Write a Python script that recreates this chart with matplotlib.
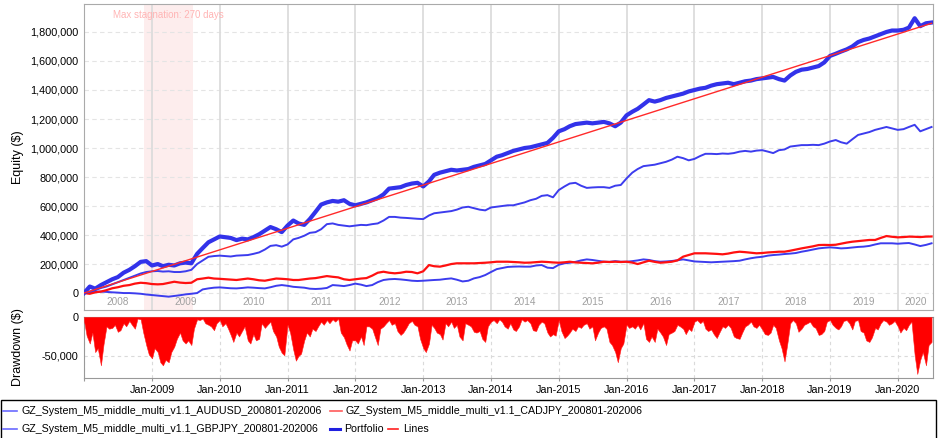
### Equity curve + drawdown chart (portfolio of three GZ systems)

import numpy as np
import pandas as pd
import matplotlib
matplotlib.use("Agg")
import matplotlib.pyplot as plt
import matplotlib.dates as mdates
from matplotlib.lines import Line2D
from matplotlib.patches import Rectangle
from matplotlib.ticker import FuncFormatter, MultipleLocator

plt.rcParams["font.family"] = ["Liberation Sans", "DejaVu Sans"]

# ---- data (values in thousands of $), monthly from Jan-2008 ----
months = pd.date_range("2008-01-01", periods=151, freq="MS")

portfolio = [
    0, 45, 30, 55, 75, 95, 110, 140, 160, 185, 215, 220,
    190, 200, 185, 195, 190, 205, 210, 205, 270, 310, 350, 370,
    390, 385, 380, 365, 375, 370, 385, 405, 430, 455, 440, 420,
    465, 500, 480, 470, 510, 560, 610, 625, 635, 630, 640, 615,
    605, 615, 625, 640, 655, 680, 720, 725, 730, 745, 755, 760,
    735, 770, 815, 830, 840, 850, 845, 850, 855, 870, 880, 890,
    915, 940, 950, 965, 980, 990, 1000, 1005, 1015, 1025, 1035, 1070,
    1115, 1130, 1150, 1165, 1170, 1175, 1170, 1175, 1180, 1170, 1150, 1175,
    1225, 1250, 1270, 1300, 1330, 1320, 1330, 1345, 1355, 1365, 1375, 1390,
    1400, 1410, 1415, 1430, 1440, 1445, 1450, 1440, 1450, 1460, 1465, 1475,
    1480, 1485, 1490, 1475, 1465, 1500, 1525, 1540, 1545, 1555, 1565, 1590,
    1635, 1650, 1665, 1680, 1700, 1730, 1745, 1755, 1770, 1785, 1800, 1810,
    1810, 1815, 1830, 1895, 1840, 1860, 1865,
]

audusd = [
    0, 10, 20, 35, 45, 60, 75, 90, 105, 120, 135, 145,
    150, 152, 148, 150, 145, 145, 150, 160, 200, 225, 250, 255,
    258, 255, 252, 258, 260, 262, 270, 280, 300, 325, 330, 320,
    335, 370, 380, 395, 415, 420, 440, 475, 480, 470, 465, 460,
    465, 470, 468, 475, 480, 500, 525, 525, 520, 518, 515, 512,
    510, 535, 550, 555, 560, 565, 575, 590, 595, 585, 575, 570,
    590, 595, 600, 605, 605, 615, 625, 640, 650, 670, 675, 660,
    710, 735, 755, 760, 740, 725, 728, 730, 730, 725, 740, 745,
    790, 830, 855, 875, 880, 885, 895, 905, 920, 940, 930, 915,
    925, 945, 960, 960, 958, 962, 960, 965, 975, 980, 975, 982,
    985, 975, 965, 985, 990, 1010, 1015, 1020, 1020, 1022, 1020, 1030,
    1045, 1055, 1040, 1030, 1060, 1090, 1100, 1110, 1125, 1135, 1145, 1135,
    1125, 1130, 1145, 1160, 1115, 1130, 1145,
]

cadjpy = [
    0, -5, 5, 10, 20, 33, 40, 50, 55, 65, 71, 68,
    62, 60, 62, 70, 78, 72, 69, 71, 95, 100, 106, 100,
    98, 95, 92, 90, 95, 100, 95, 88, 85, 92, 100, 98,
    95, 90, 90, 95, 100, 103, 110, 117, 112, 108, 95, 90,
    95, 100, 103, 120, 140, 147, 140, 136, 140, 147, 145, 136,
    150, 193, 185, 182, 190, 200, 205, 205, 205, 205, 207, 209,
    212, 216, 216, 216, 214, 212, 209, 210, 213, 216, 214, 211,
    209, 212, 216, 211, 209, 207, 205, 209, 216, 214, 216, 214,
    216, 210, 200, 212, 223, 215, 209, 212, 216, 225, 251, 262,
    274, 274, 274, 272, 270, 267, 272, 280, 285, 282, 278, 274,
    276, 280, 282, 285, 285, 292, 300, 308, 315, 322, 331, 332,
    331, 333, 340, 348, 354, 358, 362, 366, 366, 380, 393, 388,
    384, 386, 389, 388, 386, 389, 390,
]

gbpjpy = [
    0, 5, 10, 10, 8, 5, 3, 0, 0, -2, -5, -10,
    -14, -18, -22, -25, -20, -15, -9, -5, 0, 25, 32, 37,
    39, 36, 33, 32, 35, 39, 37, 34, 32, 40, 50, 55,
    50, 43, 40, 37, 30, 28, 30, 35, 55, 52, 48, 55,
    65, 58, 48, 55, 75, 90, 95, 97, 94, 90, 85, 83,
    85, 88, 90, 92, 97, 101, 92, 80, 85, 101, 110, 124,
    145, 165, 172, 180, 182, 183, 182, 182, 190, 193, 175, 172,
    195, 205, 209, 215, 225, 232, 228, 222, 216, 215, 220, 216,
    216, 220, 225, 232, 228, 220, 216, 218, 221, 226, 232, 225,
    218, 216, 214, 212, 214, 216, 218, 220, 223, 232, 240, 246,
    250, 258, 262, 265, 269, 272, 276, 285, 292, 300, 308, 312,
    315, 312, 308, 310, 314, 318, 320, 325, 335, 343, 343, 343,
    340, 343, 345, 335, 324, 332, 343,
]

# straight "Lines" fit
lines_dates = pd.to_datetime(["2008-01-01", "2020-07-01"])
lines_vals = [0, 1860]

# drawdown of portfolio, semi-monthly, in thousands
dd_dates = pd.date_range("2008-01-01", periods=301, freq="SMS")
drawdown = [
    -5, -24, -34, -20, -45, -40, -62, -35, -12, -15, -14, -10, -19, -17, -8, -12,
    -5, -10, -15, -2, -3, -20, -36, -48, -53, -40, -45, -58, -62, -55, -58, -45,
    -38, -28, -20, -30, -34, -30, -36, -15, -3, -4, -2, -8, -10, -12, -17, -8,
    -4, -12, -8, -15, -23, -32, -20, -25, -18, -12, -30, -34, -22, -30, -28, -8,
    -14, -10, -6, -18, -25, -38, -46, -49, -10, -20, -42, -56, -50, -47, -30, -20,
    -25, -15, -18, -12, -6, -10, -4, -8, -3, -6, -2, -20, -26, -35, -43, -30,
    -30, -34, -25, -36, -12, -12, -15, -25, -36, -15, -12, -8, -4, -10, -8, -18,
    -23, -20, -14, -8, -5, -10, -12, -28, -40, -45, -34, -10, -14, -20, -22, -29,
    -8, -12, -6, -14, -10, -25, -30, -8, -10, -12, -19, -20, -18, -28, -32, -12,
    -6, -4, -8, -3, -6, -12, -15, -8, -16, -18, -12, -3, -6, -4, -8, -17,
    -18, -10, -6, -8, -20, -25, -22, -24, -4, -18, -27, -24, -20, -15, -18, -12,
    -14, -10, -8, -15, -12, -30, -20, -14, -12, -15, -32, -36, -45, -58, -40, -34,
    -10, -14, -12, -15, -10, -16, -8, -28, -32, -25, -32, -15, -20, -25, -36, -22,
    -20, -18, -10, -12, -15, -22, -15, -18, -6, -4, -8, -5, -15, -18, -16, -22,
    -27, -20, -12, -14, -10, -14, -25, -27, -28, -20, -12, -10, -6, -12, -14, -10,
    -16, -22, -23, -20, -10, -14, -30, -40, -57, -36, -8, -4, -8, -19, -15, -10,
    -8, -6, -12, -14, -23, -22, -18, -6, -4, -10, -14, -16, -12, -5, -4, -8,
    -16, -5, -4, -18, -20, -30, -32, -26, -14, -16, -8, -4, -6, -10, -8, -5,
    -12, -20, -14, -17, -10, -6, -49, -73, -55, -45, -62, -36, -32,
]

year_labels = [str(y) for y in range(2008, 2021)]
stag_start, stag_end = pd.Timestamp("2008-11-19"), pd.Timestamp("2009-08-12")
stag_text = "Max stagnation: 270 days"

names = {
    "aud": "GZ_System_M5_middle_multi_v1.1_AUDUSD_200801-202006",
    "cad": "GZ_System_M5_middle_multi_v1.1_CADJPY_200801-202006",
    "gbp": "GZ_System_M5_middle_multi_v1.1_GBPJPY_200801-202006",
}

# ---- figure ----
fig = plt.figure(figsize=(9.4, 4.38), dpi=100)
ax = fig.add_axes([0.0894, 0.2922, 0.9032, 0.6987])
ax2 = fig.add_axes([0.0894, 0.1370, 0.9032, 0.1393], sharex=ax)

xmin, xmax = pd.Timestamp("2008-01-01"), pd.Timestamp("2020-07-09")
k = 1000.0
blue_thin = "#3c3cee"
blue_port = "#3232ea"

ax.axvspan(stag_start, stag_end, color="#fdeded", lw=0, zorder=0)
for y in range(2009, 2021):
    ax.axvline(pd.Timestamp(f"{y}-01-01"), color="#dcdcdc", lw=1.3, zorder=1)
ax.yaxis.grid(True, color="#e4e4e4", ls=(0, (4, 3)), lw=0.8)
ax.set_axisbelow(True)

ax.plot(months, np.array(gbpjpy) * k, color=blue_thin, lw=1.4, zorder=3)
ax.plot(months, np.array(cadjpy) * k, color="#ff1010", lw=1.6, zorder=3)
ax.plot(months, np.array(audusd) * k, color=blue_thin, lw=1.4, zorder=3)
ax.plot(months, np.array(portfolio) * k, color=blue_port, lw=3.0, zorder=4)
ax.plot(lines_dates, np.array(lines_vals) * k, color="#ff2a2a", lw=1.0, zorder=5)

ax.set_xlim(xmin, xmax)
ax.set_ylim(-117000, 1993000)
ax.yaxis.set_major_locator(MultipleLocator(200000))
ax.yaxis.set_major_formatter(FuncFormatter(lambda v, p: f"{v:,.0f}"))
ax.tick_params(axis="y", length=0, pad=4, labelsize=7.8)
ax.tick_params(axis="x", which="both", length=0, labelbottom=False)
ax.set_ylabel("Equity ($)", fontsize=9)
for s in ax.spines.values():
    s.set_color("#aaaaaa")

# year labels inside the top panel
for lab in year_labels:
    y0 = max(pd.Timestamp(f"{lab}-01-01"), xmin)
    y1 = min(pd.Timestamp(f"{int(lab) + 1}-01-01"), xmax)
    mid = y0 + (y1 - y0) / 2
    ax.text(mid, 0.026, lab, transform=ax.get_xaxis_transform(),
            ha="center", va="center", fontsize=7.2, color="#a0a0a0")

ax.text(stag_start + (stag_end - stag_start) / 2, 0.965, stag_text,
        transform=ax.get_xaxis_transform(), ha="center", va="center",
        fontsize=7, color="#ffb4b4")

# drawdown panel
ax2.fill_between(dd_dates, np.array(drawdown) * k, 0, color="#ff0000", lw=0.4,
                 edgecolor="#ff2020", zorder=3)
ax2.set_ylim(-78200, 0)
ax2.set_yticks([0, -50000])
ax2.yaxis.set_major_formatter(FuncFormatter(lambda v, p: f"{v:,.0f}"))
ax2.grid(True, color="#dadada", ls=(0, (3, 3)), lw=0.8)
ax2.set_axisbelow(True)
ax2.xaxis.set_major_locator(mdates.YearLocator())
ax2.xaxis.set_major_formatter(mdates.DateFormatter("Jan-%Y"))
ax2.tick_params(axis="y", length=0, pad=4, labelsize=7.8)
ax2.tick_params(axis="x", length=2, color="#999999", pad=3, labelsize=7.8)
ax2.set_ylabel("Drawdown ($)", fontsize=9)
for s in ax2.spines.values():
    s.set_color("#999999")
ax2.spines["top"].set_color("#888888")
ax2.set_xlim(xmin, xmax)
for t in ax2.get_xticklabels():
    if t.get_text() == "Jan-2008":
        t.set_visible(False)

# put both y labels at the same x
ax.yaxis.set_label_coords(-0.071, 0.5)
ax2.yaxis.set_label_coords(-0.071, 0.5)

# ---- legend box drawn by hand ----
W, H = 940.0, 438.0
fig.add_artist(Rectangle((1 / W, -0.02), 935 / W, (438 - 400) / H + 0.02,
                         transform=fig.transFigure, fill=False,
                         edgecolor="black", lw=1.0))

legend_items = [
    (3, 17, 22, 411, "#6a6aff", 1.2, names["aud"]),
    (330, 342, 346, 411, "#ff5a5a", 1.2, names["cad"]),
    (3, 17, 22, 429, "#6a6aff", 1.2, names["gbp"]),
    (330, 340, 344, 429, "#2020e0", 2.2, "Portfolio"),
    (388, 398, 403, 429, "#ff2020", 1.2, "Lines"),
]
for x0, x1, xt, yy, col, lw, txt in legend_items:
    fy = 1 - yy / H
    fig.add_artist(Line2D([x0 / W, x1 / W], [fy, fy], transform=fig.transFigure,
                          color=col, lw=lw))
    fig.text(xt / W, fy, txt, ha="left", va="center", fontsize=7.7)

fig.savefig("out.png", dpi=100)
